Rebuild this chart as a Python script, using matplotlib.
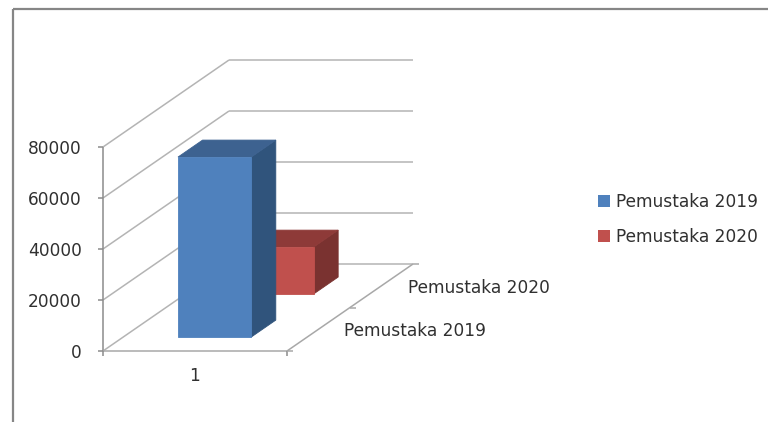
import matplotlib
matplotlib.use("Agg")
import matplotlib.pyplot as plt
from matplotlib.patches import Patch, Polygon

# data
series = ["Pemustaka 2019", "Pemustaka 2020"]
values = [70600, 18400]
categories = ["1"]
y_ticks = [0, 20000, 40000, 60000, 80000]

# colours: front, top, side of each bar
colors = [("#4f81bd", "#3d6290", "#30547c"), ("#c0504d", "#8e3a38", "#7a3230")]
grid_color = "#b4b4b4"
text_color = "#303030"
font_size = 12.25

plt.rcParams["font.family"] = "DejaVu Sans"

fig = plt.figure(figsize=(7.68, 4.22), dpi=100)
ax = fig.add_axes([0, 0, 1, 1])

# the axes are scaled so that category 0..1 is 184 px and 80000 is 204 px
px_x = 1 / 184
px_y = 80000 / 204
ax.set_xlim(-103 * px_x, (768 - 103) * px_x)
ax.set_ylim(-(422 - 351) * px_y, 351 * px_y)
ax.axis("off")

# how far the back of the chart is moved from the front
depth_x = 126 * px_x
depth_y = 87 * px_y


def pt(x, v, d=0):
    return (x + d * depth_x, v + d * depth_y)


def line(p1, p2, color=grid_color, lw=1.1, z=1):
    ax.plot([p1[0], p2[0]], [p1[1], p2[1]], color=color, lw=lw, zorder=z,
            solid_capstyle="butt")


# walls and floor
for v in y_ticks:
    line(pt(0, v, 0), pt(0, v, 1))
    line(pt(0, v, 1), pt(1, v, 1))
    line((-5 * px_x, v), (0, v), color="#8c8c8c")
    ax.text(-21 * px_x, v - 2 * px_y, str(v), ha="right", va="center", fontsize=font_size,
            color=text_color)
line(pt(0, 0), pt(0, 80000), color="#8c8c8c")
line(pt(0, 0), pt(1, 0), color="#a8a8a8")
line(pt(1, 0), pt(1, 0, 1), color="#a8a8a8")
for x in [0, 1]:
    line((x, 0), (x, -5 * px_y), color="#8c8c8c")
for d in [0, 0.5, 1]:
    line(pt(1, 0, d), pt(1 + 6 * px_x, 0, d), color="#a8a8a8")

# bars, the back one first
x0, x1 = 0.298, 0.696
bar_depth = [(0.16, 0.355), (0.655, 0.85)]
for i in [1, 0]:
    d0, d1 = bar_depth[i]
    v = values[i]
    front, top, side = colors[i]
    z = 5 - i
    # thin edge in the same colour closes the seams between the faces
    ax.add_patch(Polygon([pt(x0, 0, d0), pt(x1, 0, d0), pt(x1, v, d0), pt(x0, v, d0)],
                         fc=front, ec=front, lw=0.6, zorder=z + 0.3))
    ax.add_patch(Polygon([pt(x0, v, d0), pt(x1, v, d0), pt(x1, v, d1), pt(x0, v, d1)],
                         fc=top, ec=top, lw=0.6, zorder=z + 0.2))
    ax.add_patch(Polygon([pt(x1, 0, d0), pt(x1, 0, d1), pt(x1, v, d1), pt(x1, v, d0)],
                         fc=side, ec=side, lw=0.6, zorder=z + 0.1))

# axis labels
ax.text(0.5, -25 * px_y, categories[0], ha="center", va="center", fontsize=font_size,
        color=text_color)
for name, d in zip(series, [0.25, 0.75]):
    x, y = pt(1, 0, d)
    ax.text(x + 26 * px_x, y - 2 * px_y, name, ha="left", va="center", fontsize=font_size,
            color=text_color)

# picture frame
line((-90 * px_x, 342 * px_y), (665 * px_x, 342 * px_y), color="#868686", lw=1.6, z=6)
line((-90 * px_x, 342 * px_y), (-90 * px_x, -71 * px_y), color="#868686", lw=1.6, z=6)

handles = [Patch(fc=colors[i][0], label=series[i]) for i in range(2)]
ax.legend(handles=handles, loc="upper left", bbox_to_anchor=(591 / 768, 1 - 186 / 422),
          frameon=False, fontsize=font_size, labelcolor=text_color, handlelength=0.7,
          handleheight=0.7, handletextpad=0.35, labelspacing=1.02, borderpad=0.4,
          borderaxespad=0)

plt.savefig("out.png", dpi=100)
plt.close()
